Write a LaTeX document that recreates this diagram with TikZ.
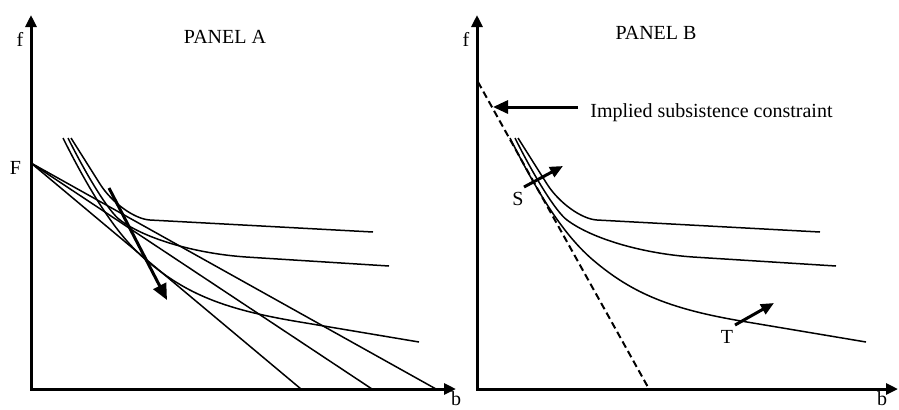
\documentclass[tikz,border=0pt]{standalone}
\usepackage{fontspec}
\setmainfont{Liberation Serif}
\usetikzlibrary{arrows.meta}
\begin{document}
\begin{tikzpicture}[x=0.5pt,y=-0.5pt,
  axis/.style={line width=1.5pt,{Triangle[length=6pt,width=5.5pt]}-{Triangle[length=6pt,width=5.5pt]}},
  curve/.style={line width=0.75pt,line join=round},
  budget/.style={line width=0.75pt},
  bigarrow/.style={line width=1.5pt,-{Triangle[length=8pt,width=7pt]}},
  midarrow/.style={line width=1.5pt,-{Triangle[length=7.5pt,width=6.5pt]}},
  smallarrow/.style={line width=1.5pt,-{Triangle[length=6.5pt,width=5.5pt]}},
  subsist/.style={line width=1pt,dash pattern=on 3.5pt off 2pt},
  lbl/.style={font=\fontsize{10}{12}\selectfont,inner sep=0pt}]
\useasboundingbox (0,0) rectangle (899,409);

% ---------- Panel A ----------
\coordinate (yA) at (31,15);
\coordinate (xA) at (456,389);
\draw[axis] (yA) |- (xA);
\node[lbl,anchor=base] (fA) at (20,46) {f};
\node[lbl,anchor=base] (bA) at (456,405) {b};
\node[lbl,anchor=base] (pA) at (225,43) {PANEL A};
\node[lbl,anchor=base] (FA) at (15.5,174) {F};
\coordinate (F) at (31,163);
\coordinate (e1) at (301,389);
\coordinate (e2) at (372,389);
\coordinate (e3) at (436,389);
\draw[budget] (F) -- (e1);
\draw[budget] (F) -- (e2);
\draw[budget] (F) -- (e3);

% indifference curves (same in both panels)
\foreach \dx in {0,447}{
\begin{scope}[xshift=\dx*0.5pt]
\draw[curve] (71,138) -- (100,184) .. controls (112,202.9) and (134.5,219.1) .. (150,220) -- (373,232);
\draw[curve] (68,138) .. controls (88.6,179.3) and (109.4,212.1) .. (120,220)
  .. controls (144.9,238.7) and (195.3,253.5) .. (246,257) -- (389,266);
\draw[curve] (63,138) .. controls (94.3,200.6) and (119.3,237.1) .. (146,260)
  .. controls (186,294) and (224.5,309.6) .. (300,322) -- (419,342);
\end{scope}
}

\coordinate (aA1) at (109,188);
\coordinate (aA2) at (167,300);
\draw[bigarrow] (aA1) -- (aA2);

% ---------- Panel B ----------
\coordinate (yB) at (477,15);
\coordinate (xB) at (898,389);
\draw[axis] (yB) |- (xB);
\node[lbl,anchor=base] (fB) at (466,46) {f};
\node[lbl,anchor=base] (bB) at (882,405) {b};
\node[lbl,anchor=base] (pB) at (656,39) {PANEL B};

\coordinate (d1) at (478,82);
\coordinate (d2) at (649,389);
\draw[subsist] (d1) -- (d2);

\node[lbl,anchor=base west] (isc) at (590,117) {Implied subsistence constraint};
\coordinate (iscS) at (578,107);
\coordinate (iscE) at (493,107);
\draw[midarrow] (iscS) -- (iscE);

\coordinate (s1) at (524,187);
\coordinate (s2) at (563,166);
\draw[smallarrow] (s1) -- (s2);
\node[lbl,anchor=base] (S) at (518,205) {S};

\coordinate (t1) at (735,325);
\coordinate (t2) at (774,303);
\draw[smallarrow] (t1) -- (t2);
\node[lbl,anchor=base] (T) at (727,343) {T};
\end{tikzpicture}
\end{document}
